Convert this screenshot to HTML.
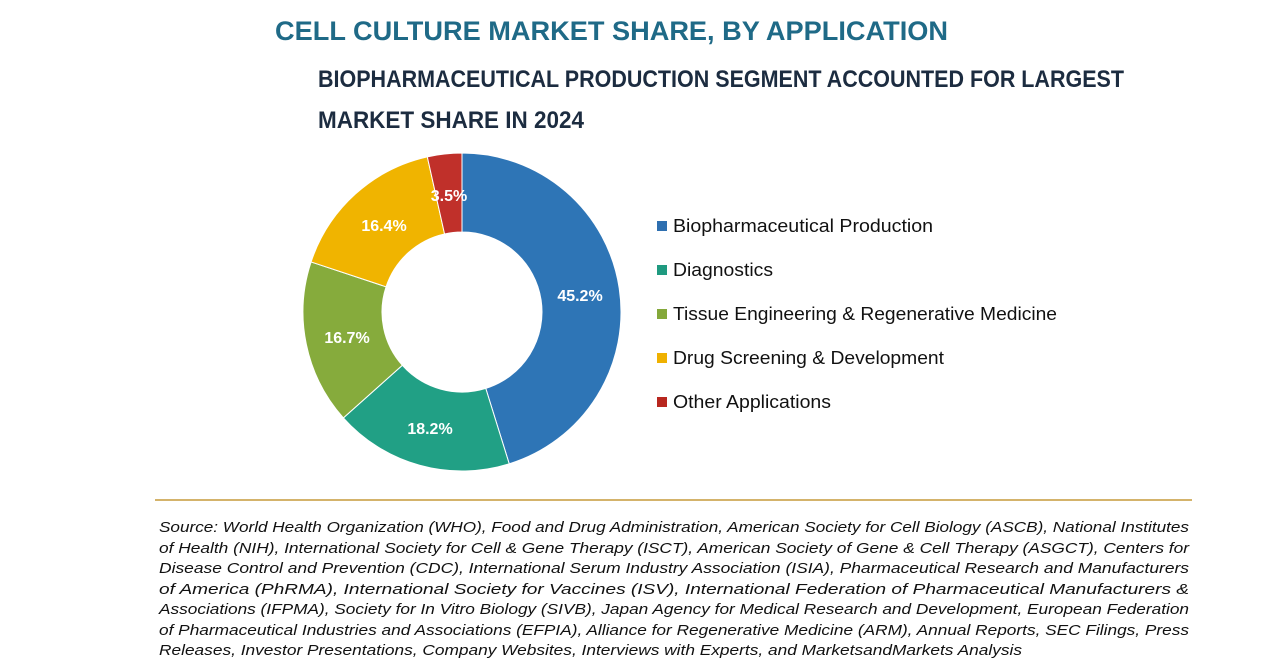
<!DOCTYPE html>
<html><head><meta charset="utf-8"><style>html,body{margin:0;background:#fff}svg{display:block}</style></head>
<body>
<svg id="s" width="1280" height="670" xmlns="http://www.w3.org/2000/svg" font-family="Liberation Sans, sans-serif">
<text x="275" y="40" font-size="27" font-weight="bold" fill="#1f6a87" textLength="673" lengthAdjust="spacingAndGlyphs">CELL CULTURE MARKET SHARE, BY APPLICATION</text>
<text x="318" y="87" font-size="24" font-weight="bold" fill="#1c2c40" textLength="806" lengthAdjust="spacingAndGlyphs">BIOPHARMACEUTICAL PRODUCTION SEGMENT ACCOUNTED FOR LARGEST</text>
<text x="318" y="128" font-size="24" font-weight="bold" fill="#1c2c40" textLength="266" lengthAdjust="spacingAndGlyphs">MARKET SHARE IN 2024</text>
<g id="donut"></g>
<g font-size="16" font-weight="bold" fill="#fff" text-anchor="middle">
<text x="580" y="301">45.2%</text>
<text x="430" y="434">18.2%</text>
<text x="347" y="343">16.7%</text>
<text x="384" y="231">16.4%</text>
<text x="449" y="201">3.5%</text>
</g>
<g font-size="18" fill="#111">
<rect x="657" y="221" width="10" height="10" fill="#2e6fb0"/><text x="673" y="232" textLength="260" lengthAdjust="spacingAndGlyphs">Biopharmaceutical Production</text>
<rect x="657" y="265" width="10" height="10" fill="#1f9a80"/><text x="673" y="276" textLength="100" lengthAdjust="spacingAndGlyphs">Diagnostics</text>
<rect x="657" y="309" width="10" height="10" fill="#84a83a"/><text x="673" y="320" textLength="384" lengthAdjust="spacingAndGlyphs">Tissue Engineering &amp; Regenerative Medicine</text>
<rect x="657" y="353" width="10" height="10" fill="#efb100"/><text x="673" y="364" textLength="271" lengthAdjust="spacingAndGlyphs">Drug Screening &amp; Development</text>
<rect x="657" y="397" width="10" height="10" fill="#b8271f"/><text x="673" y="408" textLength="158" lengthAdjust="spacingAndGlyphs">Other Applications</text>
</g>
<line x1="155" y1="500" x2="1192" y2="500" stroke="#c59a3a" stroke-width="1.5"/>
<g font-size="14.5" font-style="italic" fill="#111">
<text x="159" y="532" textLength="1030" lengthAdjust="spacingAndGlyphs">Source: World Health Organization (WHO), Food and Drug Administration, American Society for Cell Biology (ASCB), National Institutes</text>
<text x="159" y="553" textLength="1030" lengthAdjust="spacingAndGlyphs">of Health (NIH), International Society for Cell &amp; Gene Therapy (ISCT), American Society of Gene &amp; Cell Therapy (ASGCT), Centers for</text>
<text x="159" y="573" textLength="1030" lengthAdjust="spacingAndGlyphs">Disease Control and Prevention (CDC), International Serum Industry Association (ISIA), Pharmaceutical Research and Manufacturers</text>
<text x="159" y="594" textLength="1030" lengthAdjust="spacingAndGlyphs">of America (PhRMA), International Society for Vaccines (ISV), International Federation of Pharmaceutical Manufacturers &amp;</text>
<text x="159" y="614" textLength="1030" lengthAdjust="spacingAndGlyphs">Associations (IFPMA), Society for In Vitro Biology (SIVB), Japan Agency for Medical Research and Development, European Federation</text>
<text x="159" y="635" textLength="1030" lengthAdjust="spacingAndGlyphs">of Pharmaceutical Industries and Associations (EFPIA), Alliance for Regenerative Medicine (ARM), Annual Reports, SEC Filings, Press</text>
<text x="159" y="655" textLength="863" lengthAdjust="spacingAndGlyphs">Releases, Investor Presentations, Company Websites, Interviews with Experts, and MarketsandMarkets Analysis</text>
</g>
</svg>
<script>
var cx=462,cy=312,R=159,r=80;
var d=[[45.2,"#2e75b6"],[18.2,"#21a085"],[16.7,"#86ab3c"],[16.4,"#f0b400"],[3.5,"#c0302a"]];
var a=0,g=document.getElementById("donut"),h="";
function p(rad,ang){return [cx+rad*Math.sin(ang),cy-rad*Math.cos(ang)];}
d.forEach(function(s){var a0=a*Math.PI/50,a1=(a+s[0])*Math.PI/50;a+=s[0];
var L=(a1-a0)>Math.PI?1:0,o0=p(R,a0),o1=p(R,a1),i1=p(r,a1),i0=p(r,a0);
h+='<path fill="'+s[1]+'" stroke="#fff" stroke-width="1" d="M'+o0+' A'+R+','+R+' 0 '+L+' 1 '+o1+' L'+i1+' A'+r+','+r+' 0 '+L+' 0 '+i0+' Z"/>';});
g.innerHTML=h;
</script>
</body></html>
